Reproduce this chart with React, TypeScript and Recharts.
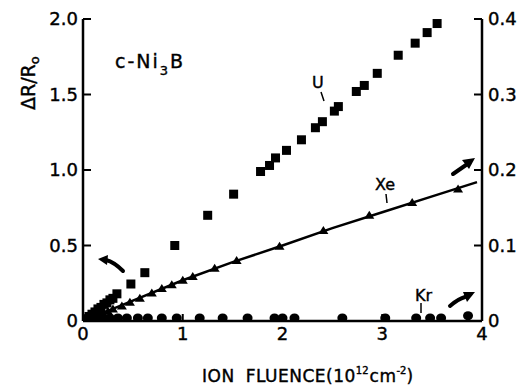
import React from 'react';
import { ScatterChart, Scatter, XAxis, YAxis } from 'recharts';

// U implantation, left axis (ΔR/R0)
const uData = [
  { x: 0.03, y: 0.015 }, { x: 0.06, y: 0.03 }, { x: 0.09, y: 0.045 }, { x: 0.12, y: 0.06 },
  { x: 0.15, y: 0.08 }, { x: 0.18, y: 0.09 }, { x: 0.21, y: 0.11 }, { x: 0.24, y: 0.12 },
  { x: 0.27, y: 0.14 }, { x: 0.3, y: 0.15 }, { x: 0.34, y: 0.18 }, { x: 0.48, y: 0.245 },
  { x: 0.62, y: 0.32 }, { x: 0.92, y: 0.5 }, { x: 1.25, y: 0.7 }, { x: 1.51, y: 0.84 },
  { x: 1.78, y: 0.99 }, { x: 1.87, y: 1.03 }, { x: 1.93, y: 1.08 }, { x: 2.04, y: 1.13 },
  { x: 2.19, y: 1.2 }, { x: 2.33, y: 1.28 }, { x: 2.4, y: 1.32 }, { x: 2.52, y: 1.39 },
  { x: 2.56, y: 1.42 }, { x: 2.74, y: 1.52 }, { x: 2.82, y: 1.56 }, { x: 2.95, y: 1.64 },
  { x: 3.16, y: 1.76 }, { x: 3.33, y: 1.84 }, { x: 3.45, y: 1.91 }, { x: 3.55, y: 1.97 },
];

// Xe, right axis
const xeData = [
  { x: 0.04, y: 0.002 }, { x: 0.08, y: 0.004 }, { x: 0.12, y: 0.006 }, { x: 0.16, y: 0.008 },
  { x: 0.2, y: 0.01 }, { x: 0.25, y: 0.013 }, { x: 0.3, y: 0.016 }, { x: 0.39, y: 0.02 },
  { x: 0.47, y: 0.025 }, { x: 0.57, y: 0.03 }, { x: 0.69, y: 0.037 }, { x: 0.79, y: 0.043 },
  { x: 0.89, y: 0.048 }, { x: 1.0, y: 0.054 }, { x: 1.1, y: 0.059 }, { x: 1.32, y: 0.07 },
  { x: 1.54, y: 0.08 }, { x: 1.97, y: 0.099 }, { x: 2.41, y: 0.12 }, { x: 2.87, y: 0.14 },
  { x: 3.3, y: 0.157 }, { x: 3.76, y: 0.175 },
];

// fitted line through the Xe points
const xeFit = [
  { x: 0, y: 0 }, { x: 0.5, y: 0.027 }, { x: 1.0, y: 0.054 }, { x: 1.5, y: 0.078 },
  { x: 2.0, y: 0.1 }, { x: 2.5, y: 0.123 }, { x: 3.0, y: 0.144 }, { x: 3.5, y: 0.165 },
  { x: 3.95, y: 0.184 },
];

// Kr, right axis
const krX = [0.05, 0.12, 0.2, 0.27, 0.35, 0.44, 0.55, 0.65, 0.79, 0.94, 1.17, 1.4, 1.65, 1.92, 2.0, 2.12, 2.6, 3.03, 3.34, 3.48, 3.59, 3.86];
const krY = [0.004, 0.004, 0.004, 0.004, 0.004, 0.004, 0.004, 0.004, 0.004, 0.004, 0.004, 0.004, 0.004, 0.004, 0.004, 0.004, 0.004, 0.004, 0.004, 0.004, 0.004, 0.007];
const krData = krX.map((x, i) => ({ x, y: krY[i] }));

const xTicks = [0, 1, 2, 3, 4];
const leftTicks = [0, 0.5, 1.0, 1.5, 2.0];
const rightTicks = [0, 0.1, 0.2, 0.3, 0.4];

const FONT = '"DejaVu Sans", sans-serif';

const Square = (p: any) => <rect x={p.cx - 4.5} y={p.cy - 4.5} width={9} height={9} fill="#000" />;
const Tri = (p: any) => (
  <polygon points={`${p.cx - 5},${p.cy + 3.5} ${p.cx + 5},${p.cy + 3.5} ${p.cx},${p.cy - 4.5}`} fill="#000" />
);
const Dot = (p: any) => <ellipse cx={p.cx} cy={p.cy} rx={5} ry={4.5} fill="#000" />;
const Nothing = () => <g />;

const tickStyle = { fill: '#000', stroke: '#000', strokeWidth: 0.4, fontSize: 18, fontFamily: FONT };
const axisLine = { stroke: '#000', strokeWidth: 2.5 };
const tickLine = { stroke: '#000', strokeWidth: 2 };
const fmt = (v: number) => (v === 0 ? '0' : v.toFixed(1));

export default function App() {
  return (
    <div style={{ position: 'absolute', left: 0, top: 0, width: 522, height: 388, background: '#fff' }}>
      <ScatterChart width={522} height={388} margin={{ top: 19, right: 0, bottom: 0, left: 0 }}>
        <XAxis
          xAxisId="b" type="number" dataKey="x" domain={[0, 4]} ticks={xTicks}
          height={67} tick={tickStyle} axisLine={axisLine} tickLine={tickLine}
          tickSize={-7} tickMargin={13} allowDataOverflow
        />
        <XAxis
          xAxisId="t" orientation="top" type="number" dataKey="x" domain={[0, 4]} ticks={[1, 2, 3]}
          height={0} tick={false} axisLine={axisLine} tickLine={tickLine} tickSize={-8}
        />
        <YAxis
          yAxisId="l" type="number" dataKey="y" domain={[0, 2]} ticks={leftTicks} width={83}
          tick={tickStyle} axisLine={axisLine} tickLine={tickLine} tickSize={-8} tickMargin={13}
          tickFormatter={fmt} allowDataOverflow
        />
        <YAxis
          yAxisId="r" orientation="right" type="number" dataKey="y" domain={[0, 0.4]} ticks={rightTicks} width={40}
          tick={{ ...tickStyle, textAnchor: 'start' }} axisLine={axisLine} tickLine={tickLine} tickSize={-8} tickMargin={14}
          tickFormatter={fmt} allowDataOverflow
        />
        <Scatter data={xeFit} xAxisId="b" yAxisId="r" shape={Nothing} line={{ stroke: '#000', strokeWidth: 2.5 }} isAnimationActive={false} />
        <Scatter data={uData} xAxisId="b" yAxisId="l" shape={Square} isAnimationActive={false} />
        <Scatter data={xeData} xAxisId="b" yAxisId="r" shape={Tri} isAnimationActive={false} />
        <Scatter data={krData} xAxisId="b" yAxisId="r" shape={Dot} isAnimationActive={false} />
      </ScatterChart>
      <svg width={522} height={388} style={{ position: 'absolute', left: 0, top: 0, pointerEvents: 'none' }}>
        <g fontFamily={FONT} fill="#000" stroke="#000" strokeWidth={0.4}>
          <text x={115} y={68} fontSize={19} letterSpacing={2}>
            c-Ni<tspan fontSize={13} dy={7}>3</tspan><tspan dy={-7}>B</tspan>
          </text>
          <text x={312} y={88} fontSize={16}>U</text>
          <text x={375} y={190} fontSize={16}>Xe</text>
          <text x={415} y={301} fontSize={16}>Kr</text>
          <text x={202} y={382} fontSize={17} letterSpacing={0.5}>
            ION<tspan dx={11}>FLUENCE(10</tspan><tspan fontSize={10} dy={-8} letterSpacing={0}>12</tspan>
            <tspan dy={8} dx={1}>cm</tspan><tspan fontSize={10} dy={-8} letterSpacing={0}>-2</tspan><tspan dy={8}>)</tspan>
          </text>
          <text transform="translate(35,110) rotate(-90)" fontSize={19}>
            ΔR/R<tspan fontSize={13} dy={4}>o</tspan>
          </text>
        </g>
        <g stroke="#000" strokeWidth={1.5}>
          <line x1={321} y1={92} x2={324} y2={101} />
          <line x1={386} y1={194} x2={387} y2={203} />
          <line x1={421} y1={303} x2={421} y2={313} />
        </g>
        <g stroke="#000" strokeWidth={4} fill="none" strokeLinecap="round">
          <path d="M123,271 Q114,262 106,260" />
          <path d="M453,174 L466,165" />
          <path d="M450,306 Q458,299 465,297" />
        </g>
        <g fill="#000">
          <polygon points="98,259 108,255 107,265" />
          <polygon points="475,158 462,160 469,169" />
          <polygon points="475,292 463,292 467,302" />
        </g>
      </svg>
    </div>
  );
}
